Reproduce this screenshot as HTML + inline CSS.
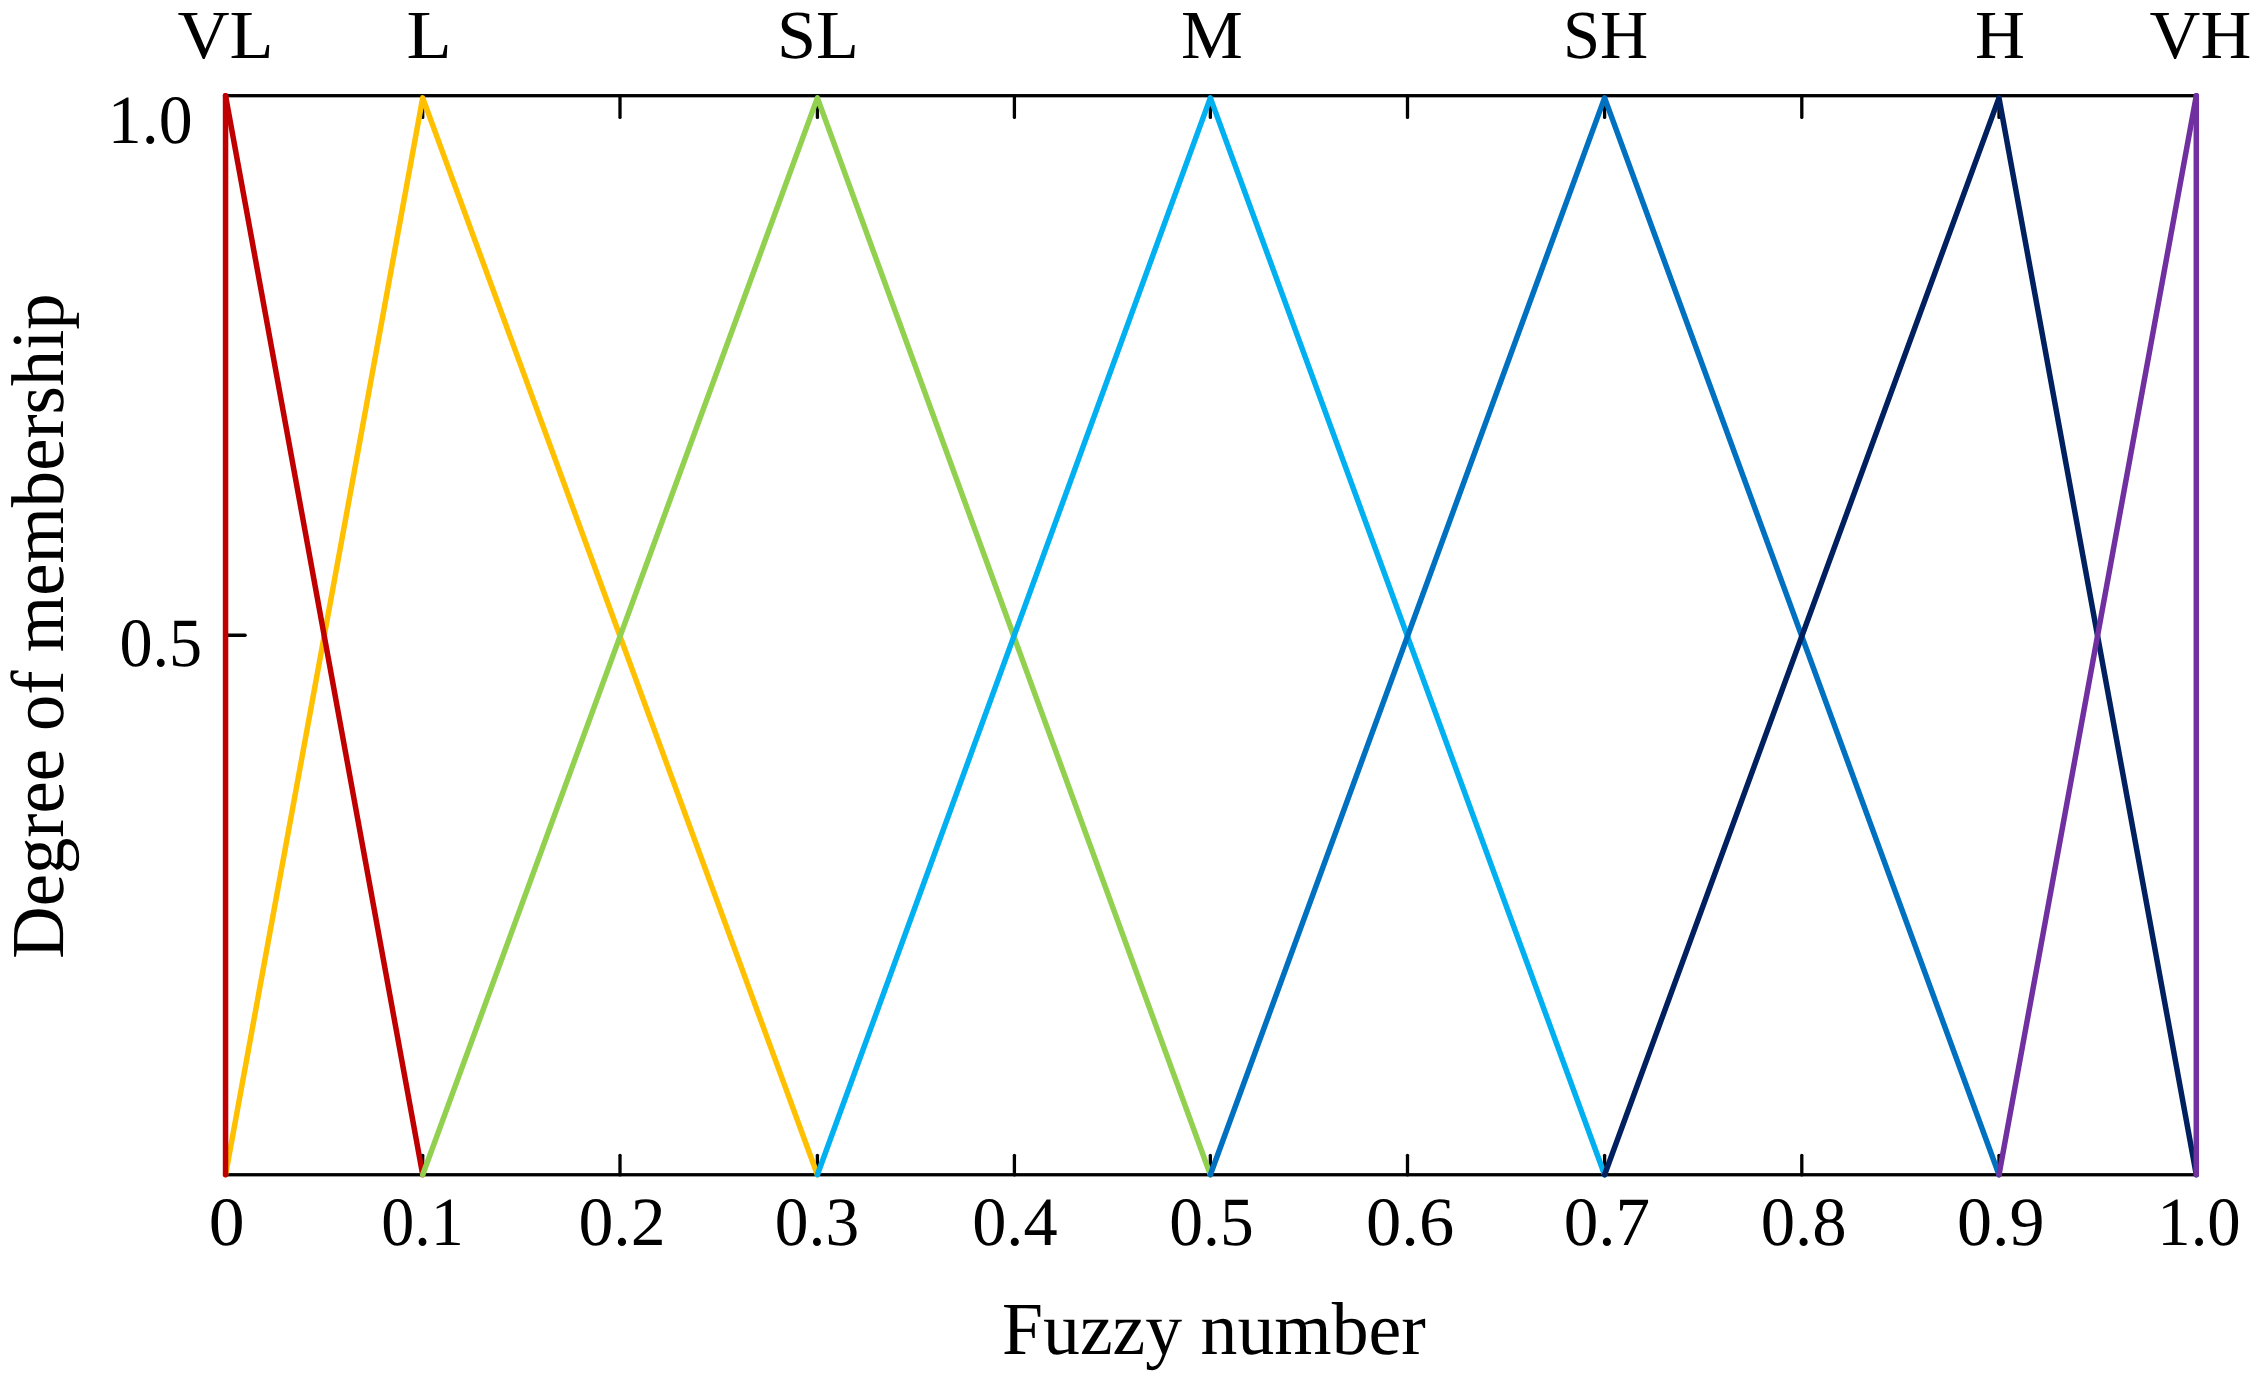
<!DOCTYPE html>
<html lang="en"><head><meta charset="utf-8"><title>Fuzzy membership functions</title>
<style>html,body{margin:0;padding:0;background:#fff}::-webkit-scrollbar{display:none}svg{display:block}text{font-family:"Liberation Serif","DejaVu Serif",serif;fill:#000;text-rendering:geometricPrecision}</style></head>
<body>
<svg width="2263" height="1384" viewBox="0 0 2263 1384">
<rect width="2263" height="1384" fill="#fff"/>
<g stroke="#000" fill="none">
<rect x="225.55" y="95.7" width="1970.75" height="1079.05" stroke-width="3.3"/>
<g stroke-width="3.3" stroke-linecap="round">
<line x1="422.70" y1="95.7" x2="422.70" y2="117.45"/>
<line x1="422.70" y1="1174.95" x2="422.70" y2="1155.3"/>
<line x1="620.00" y1="95.7" x2="620.00" y2="117.45"/>
<line x1="620.00" y1="1174.95" x2="620.00" y2="1155.3"/>
<line x1="817.40" y1="95.7" x2="817.40" y2="117.45"/>
<line x1="817.40" y1="1174.95" x2="817.40" y2="1155.3"/>
<line x1="1014.40" y1="95.7" x2="1014.40" y2="117.45"/>
<line x1="1014.40" y1="1174.95" x2="1014.40" y2="1155.3"/>
<line x1="1210.35" y1="95.7" x2="1210.35" y2="117.45"/>
<line x1="1210.35" y1="1174.95" x2="1210.35" y2="1155.3"/>
<line x1="1407.50" y1="95.7" x2="1407.50" y2="117.45"/>
<line x1="1407.50" y1="1174.95" x2="1407.50" y2="1155.3"/>
<line x1="1604.60" y1="95.7" x2="1604.60" y2="117.45"/>
<line x1="1604.60" y1="1174.95" x2="1604.60" y2="1155.3"/>
<line x1="1801.80" y1="95.7" x2="1801.80" y2="117.45"/>
<line x1="1801.80" y1="1174.95" x2="1801.80" y2="1155.3"/>
<line x1="1999.00" y1="95.7" x2="1999.00" y2="117.45"/>
<line x1="1999.00" y1="1174.95" x2="1999.00" y2="1155.3"/>
<line x1="225.55" y1="635.23" x2="245.15" y2="635.23"/>
</g></g>
<g fill="none" stroke-width="5.5" stroke-linejoin="round" stroke-linecap="round">
<polyline stroke="#FFC000" points="225.55,1174.75 422.70,97.90 817.40,1174.75"/>
<polyline stroke="#C00000" points="225.55,1174.75 225.55,95.70"/>
<polyline stroke="#C00000" points="225.55,95.70 422.70,1174.75"/>
<polyline stroke="#92D050" points="422.70,1174.75 817.40,97.90 1210.35,1174.75"/>
<polyline stroke="#00B0F0" points="817.40,1174.75 1210.35,97.90 1604.60,1174.75"/>
<polyline stroke="#0070C0" points="1210.35,1174.75 1604.60,97.90 1999.00,1174.75"/>
<polyline stroke="#002060" points="1604.60,1174.75 1999.00,97.90 2196.30,1174.75"/>
<polyline stroke="#7030A0" points="1999.00,1174.75 2196.30,95.70"/>
<polyline stroke="#7030A0" points="2196.30,95.70 2196.30,1174.75"/>
</g>
<g font-size="68.8">
<text transform="translate(177.40,57.96) scale(1.0489,1)">VL</text>
<text transform="translate(406.56,57.96) scale(1.0773,1)">L</text>
<text transform="translate(776.95,57.96) scale(1.0202,1)">SL</text>
<text transform="translate(1180.99,57.96) scale(1.0110,1)">M</text>
<text transform="translate(1562.88,57.96) scale(0.9700,1)">SH</text>
<text transform="translate(1975.10,57.96) scale(1.0062,1)">H</text>
<text transform="translate(2149.62,57.96) scale(1.0233,1)">VH</text>
</g>
<g font-size="69.0">
<text transform="translate(208.75,1245.2) scale(1.0391,1)">0</text>
<text transform="translate(381.26,1245.2) scale(0.9577,1)">0.1</text>
<text transform="translate(578.42,1245.2) scale(1.0115,1)">0.2</text>
<text transform="translate(774.81,1245.2) scale(0.9772,1)">0.3</text>
<text transform="translate(972.18,1245.2) scale(0.9900,1)">0.4</text>
<text transform="translate(1169.31,1245.2) scale(0.9797,1)">0.5</text>
<text transform="translate(1365.99,1245.2) scale(1.0221,1)">0.6</text>
<text transform="translate(1563.65,1245.2) scale(1.0023,1)">0.7</text>
<text transform="translate(1760.76,1245.2) scale(0.9957,1)">0.8</text>
<text transform="translate(1956.91,1245.2) scale(1.0155,1)">0.9</text>
<text transform="translate(2157.30,1245.2) scale(0.9667,1)">1.0</text>
<text transform="translate(107.81,143.4) scale(0.9821,1)">1.0</text>
<text transform="translate(119.46,666.4) scale(0.9588,1)">0.5</text>
</g>
<text font-size="74.8" transform="translate(1002.03,1353.6) scale(0.9856,1)">Fuzzy number</text>
<text font-size="74.8" transform="translate(63.2,958.74) rotate(-90) scale(0.9708,1)">Degree of membership</text>
</svg>
</body></html>
